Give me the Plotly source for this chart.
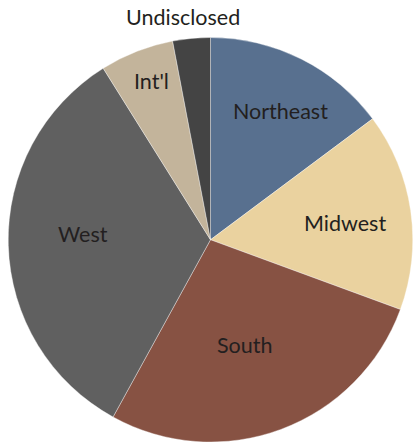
import math
import plotly.graph_objects as go

# ---- data ----
regions = ["Northeast", "Midwest", "South", "West", "Int'l", "Undisclosed"]
shares = [14.8, 15.8, 27.4, 33.1, 5.9, 3.0]

# ---- style ----
colors = ["#58708f", "#ead29f", "#875243", "#606060", "#c3b49b", "#444444"]
label_radius = [0.726, 0.67, 0.545, 0.63, 0.837, 1.11]   # fraction of radius
label_angle_shift = [2.0, 1.1, 2.8, 4.3, 1.2, -1.6]      # degrees from slice mid-angle

W, H = 414, 442
cx_px, cy_px, R_px = 210.5, 240, 202.5

dom_x = [(cx_px - R_px) / W, (cx_px + R_px) / W]
dom_y = [max(0, (H - cy_px - R_px) / H), (H - cy_px + R_px) / H]

fig = go.Figure(go.Pie(
    labels=regions,
    values=shares,
    sort=False,
    direction="clockwise",
    rotation=0,
    marker=dict(colors=colors, line=dict(color="rgba(255,255,255,0.6)", width=0.6)),
    textinfo="none",
    hoverinfo="label+percent",
    showlegend=False,
    domain=dict(x=dom_x, y=dom_y),
))

# label annotations placed from the cumulative share angles
total = sum(shares)
cum = 0.0
annotations = []
for name, v, rf, dshift in zip(regions, shares, label_radius, label_angle_shift):
    mid = (cum + v / 2) / total * 2 * math.pi + math.radians(dshift)
    cum += v
    px = cx_px + rf * R_px * math.sin(mid)
    py = cy_px - rf * R_px * math.cos(mid)
    annotations.append(dict(
        x=px / W, y=1 - py / H, xref="paper", yref="paper",
        text=name, showarrow=False,
        font=dict(family="Lato", size=21.5, color="#231f20"),
        xanchor="center", yanchor="middle",
    ))

fig.update_layout(
    width=W, height=H,
    margin=dict(l=0, r=0, t=0, b=0),
    paper_bgcolor="white",
    plot_bgcolor="white",
    annotations=annotations,
)

fig.write_html(
    "out.html",
    config={"displayModeBar": False},
    post_script="document.body.style.margin='0';document.body.style.overflow='hidden';",
)
